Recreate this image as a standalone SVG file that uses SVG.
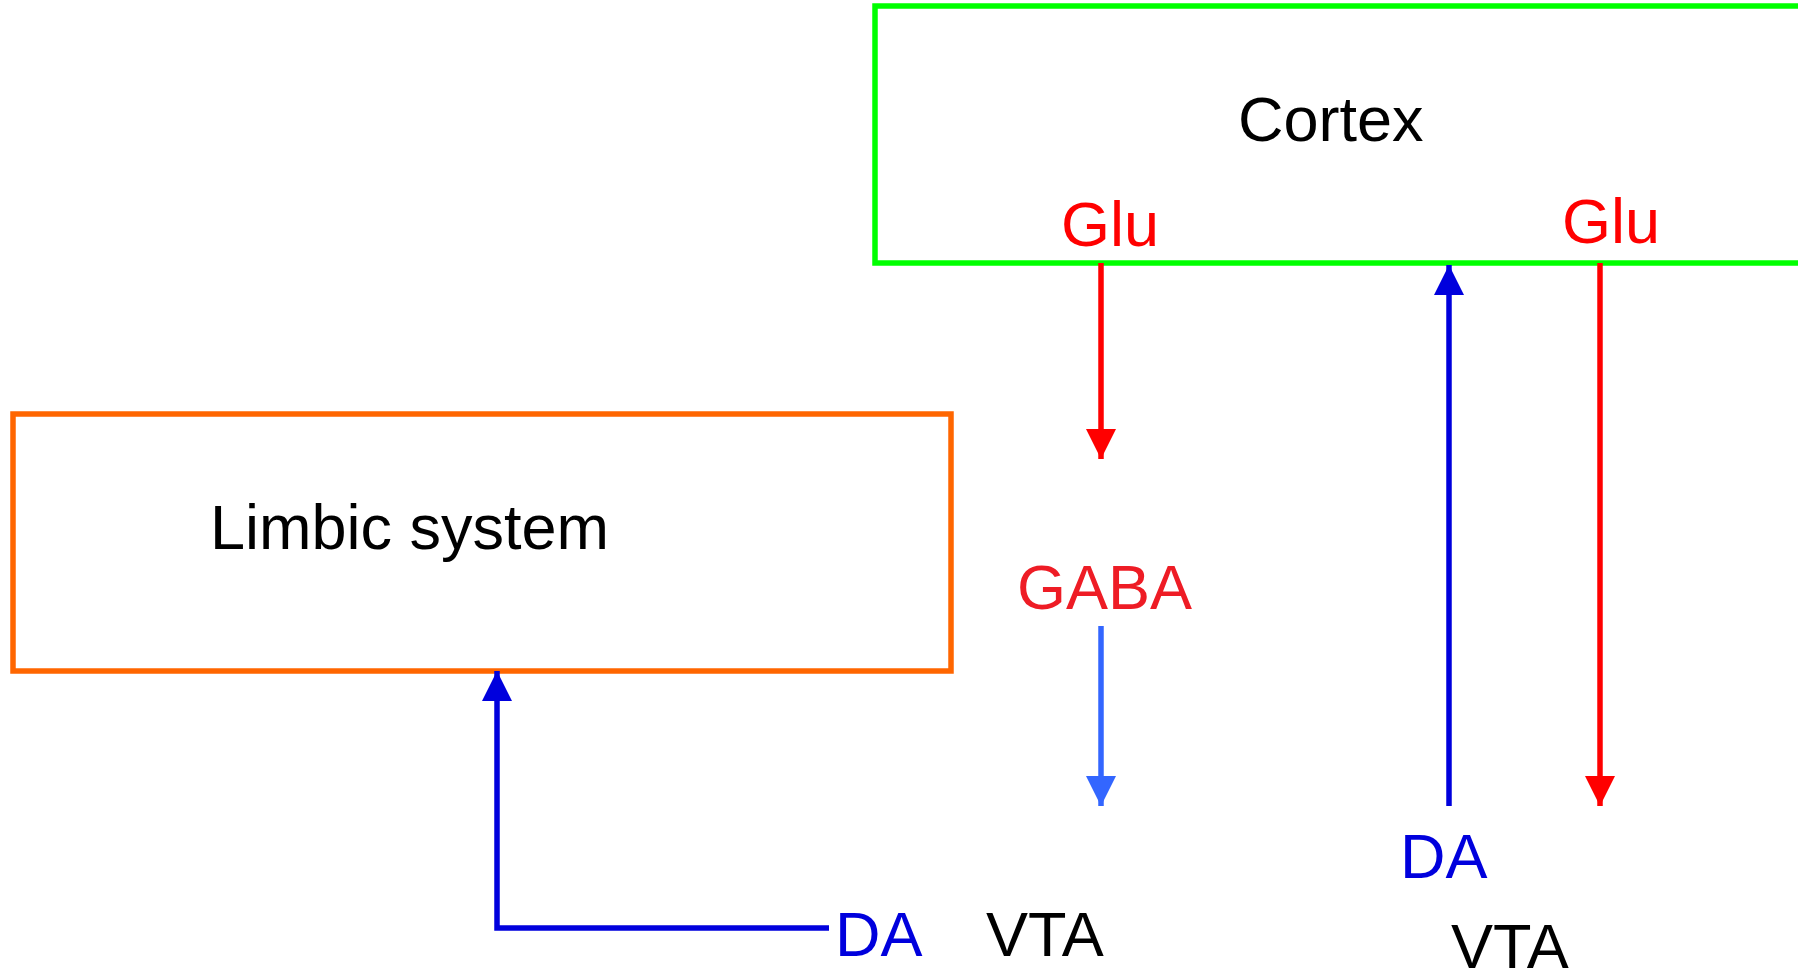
<svg xmlns="http://www.w3.org/2000/svg" width="1798" height="974" viewBox="0 0 1798 974">
<style>
text{font-family:"Liberation Sans",Arial,sans-serif;font-size:63px}
.box{fill:none;stroke-width:5.5}
.ln{fill:none;stroke-width:5.5}
</style>
<defs>
<marker id="hr" markerUnits="userSpaceOnUse" markerWidth="32" markerHeight="32" refX="30" refY="16" orient="auto"><path d="M0,1 L30,16 L0,31 z" fill="#ff0000"/></marker>
<marker id="hb" markerUnits="userSpaceOnUse" markerWidth="32" markerHeight="32" refX="30" refY="16" orient="auto"><path d="M0,1 L30,16 L0,31 z" fill="#0000dd"/></marker>
<marker id="hl" markerUnits="userSpaceOnUse" markerWidth="32" markerHeight="32" refX="30" refY="16" orient="auto"><path d="M0,1 L30,16 L0,31 z" fill="#3366ff"/></marker>
</defs>
<rect width="1798" height="974" fill="#ffffff"/>
<g id="cortex">
<rect class="box" x="875" y="6" width="1000" height="257" stroke="#00ff00"/>
<text x="1238" y="141" font-size="64" fill="#000">Cortex</text>
<text x="1061" y="246" fill="#ff0000">Glu</text>
<text x="1562" y="243" fill="#ff0000">Glu</text>
</g>
<g id="limbic">
<rect class="box" x="13" y="414" width="938" height="257" stroke="#ff6600"/>
<text x="210" y="549" font-size="64" fill="#000">Limbic system</text>
</g>
<g id="gaba">
<text x="1017" y="609" font-size="64" fill="#ee1c25">GABA</text>
</g>
<g id="vta-left">
<text x="835" y="956" fill="#0000dd">DA</text>
<text x="986" y="956" fill="#000">VTA</text>
</g>
<g id="vta-right">
<text x="1400" y="878" fill="#0000dd">DA</text>
<text x="1451" y="968" fill="#000">VTA</text>
</g>
<g id="connectors">
<line class="ln" x1="1101" y1="263" x2="1101" y2="459" stroke="#ff0000" marker-end="url(#hr)"/>
<line class="ln" x1="1101" y1="626" x2="1101" y2="806" stroke="#3366ff" marker-end="url(#hl)"/>
<line class="ln" x1="1449" y1="806" x2="1449" y2="265" stroke="#0000dd" marker-end="url(#hb)"/>
<line class="ln" x1="1600" y1="263" x2="1600" y2="806" stroke="#ff0000" marker-end="url(#hr)"/>
<polyline class="ln" points="829,928 497,928 497,671" stroke="#0000dd" marker-end="url(#hb)"/>
</g>
</svg>
